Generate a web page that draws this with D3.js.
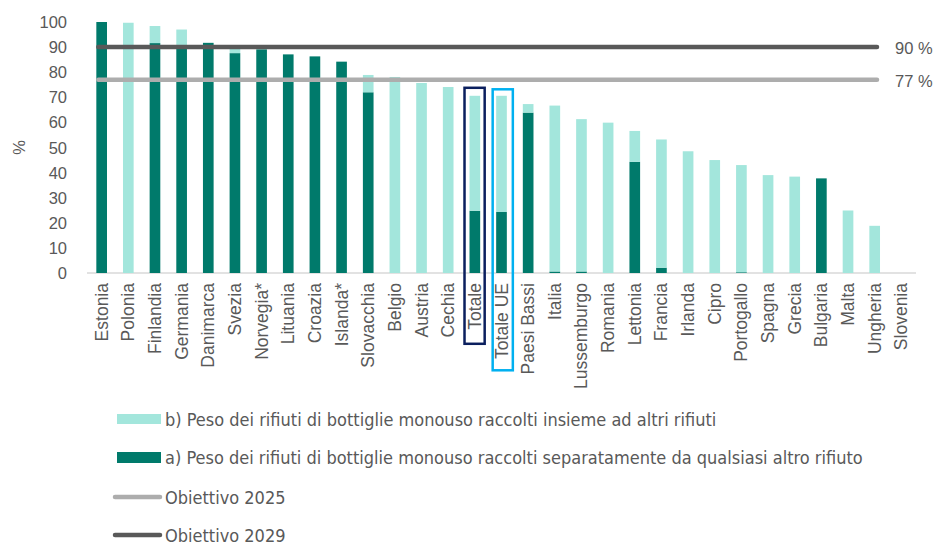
<!DOCTYPE html>
<html>
<head>
<meta charset="utf-8">
<script src="https://cdn.jsdelivr.net/npm/d3@7"></script>
<style>
  html, body { margin: 0; padding: 0; background: #ffffff; }
  svg { display: block; }
</style>
</head>
<body>
<svg id="chart" width="937" height="542"></svg>
<script>
const categories = ["Estonia","Polonia","Finlandia","Germania","Danimarca","Svezia","Norvegia*","Lituania","Croazia","Islanda*","Slovacchia","Belgio","Austria","Cechia","Totale","Totale UE","Paesi Bassi","Italia","Lussemburgo","Romania","Lettonia","Francia","Irlanda","Cipro","Portogallo","Spagna","Grecia","Bulgaria","Malta","Ungheria","Slovenia"];
// a) raccolti separatamente
const separate = [100,0,91.6,89.5,91.7,87.6,89.1,87.1,86.3,84.2,72,0,0,0,24.8,24.3,63.9,0.6,0.6,0,44.3,2.1,0,0,0.3,0,0,37.7,0,0,0];
// b) raccolti insieme ad altri rifiuti
const combined = [0,99.7,6.8,7.5,0,1.9,0,0,0,0,6.9,78.1,75.7,74.1,45.8,46.3,3.4,66.1,60.7,59.9,12.3,51.1,48.5,45,42.7,39,38.4,0,24.9,18.8,0];
const yTicks = [0,10,20,30,40,50,60,70,80,90,100];
const targetValues = [77, 90];
const targetLabels = ["77 %", "90 %"];
const legendLabels = [
  "b) Peso dei rifiuti di bottiglie monouso raccolti insieme ad altri rifiuti",
  "a) Peso dei rifiuti di bottiglie monouso raccolti separatamente da qualsiasi altro rifiuto",
  "Obiettivo 2025",
  "Obiettivo 2029"
];

const colDark = "#007A6B", colLight = "#A3E6DC";
const colT25 = "#ADADAD", colT29 = "#595959";
const textCol = "#595959";
const font = "'Liberation Sans', Arial, sans-serif";
const narrow = "'Liberation Sans Narrow', 'DejaVu Sans Condensed', sans-serif";

const svg = d3.select("#chart");
const x = d3.scaleBand().domain(categories).range([87, 916]).paddingInner(0.6).paddingOuter(0.35);
const y = d3.scaleLinear().domain([0, 100]).range([273, 22]);

const data = categories.map((c, i) => ({cat: c, a: separate[i], b: combined[i]}));

// axis baseline
svg.append("line").attr("x1", 87).attr("x2", 916).attr("y1", y(0)).attr("y2", y(0))
  .attr("stroke", "#D9D9D9").attr("stroke-width", 1.5);

// bars
const g = svg.append("g");
g.selectAll("rect.a").data(data).join("rect").attr("class", "a")
  .attr("x", d => x(d.cat)).attr("width", x.bandwidth())
  .attr("y", d => y(d.a)).attr("height", d => y(0) - y(d.a))
  .attr("fill", colDark);
g.selectAll("rect.b").data(data).join("rect").attr("class", "b")
  .attr("x", d => x(d.cat)).attr("width", x.bandwidth())
  .attr("y", d => y(d.a + d.b)).attr("height", d => y(d.a) - y(d.a + d.b))
  .attr("fill", colLight);

// target lines
const tx1 = x(categories[0]) + 2;
const tx2 = x("Ungheria") + x.bandwidth() - 3;
[[targetValues[0], colT25, targetLabels[0]], [targetValues[1], colT29, targetLabels[1]]].forEach(([v, c, lab]) => {
  svg.append("line").attr("x1", tx1).attr("x2", tx2).attr("y1", y(v)).attr("y2", y(v))
    .attr("stroke", c).attr("stroke-width", 4.5).attr("stroke-linecap", "round");
  svg.append("text").attr("x", 895).attr("y", y(v) + 1).attr("dominant-baseline", "central")
    .attr("font-family", font).attr("font-size", 16.5).attr("fill", textCol).text(lab);
});

// y ticks
svg.append("g").selectAll("text").data(yTicks).join("text")
  .attr("x", 67).attr("y", d => y(d)).attr("text-anchor", "end").attr("dominant-baseline", "central")
  .attr("font-family", font).attr("font-size", 16.5).attr("fill", textCol).text(d => d);

svg.append("text").attr("transform", `translate(19,${y(50)}) rotate(-90)`)
  .attr("text-anchor", "middle").attr("dominant-baseline", "central")
  .attr("font-family", font).attr("font-size", 16.5).attr("fill", textCol).text("%");

// x labels
svg.append("g").selectAll("text").data(categories).join("text")
  .attr("transform", d => `translate(${x(d) + x.bandwidth() / 2},283) rotate(-90)`)
  .attr("text-anchor", "end").attr("dominant-baseline", "central")
  .attr("font-family", font).attr("font-size", 17.5).attr("fill", textCol).text(d => d);

// highlight boxes
const totIdx = categories.indexOf("Totale");
svg.append("rect").attr("x", x("Totale") - 5).attr("width", x.bandwidth() + 9.5)
  .attr("y", y(combined[totIdx] + separate[totIdx]) - 8).attr("height", 256)
  .attr("fill", "none").attr("stroke", "#0B1F5E").attr("stroke-width", 2.5);
const ueIdx = categories.indexOf("Totale UE");
svg.append("rect").attr("x", x("Totale UE") - 3.5).attr("width", x.bandwidth() + 9.5)
  .attr("y", y(combined[ueIdx] + separate[ueIdx]) - 6.5).attr("height", 281)
  .attr("fill", "none").attr("stroke", "#00B0F0").attr("stroke-width", 2.5);

// legend
const leg = svg.append("g");
const ly = [419, 457.5, 497, 535];
leg.append("rect").attr("x", 117).attr("y", ly[0] - 5).attr("width", 44).attr("height", 10).attr("fill", colLight);
leg.append("rect").attr("x", 117).attr("y", ly[1] - 5.5).attr("width", 44).attr("height", 11).attr("fill", colDark);
leg.append("line").attr("x1", 115).attr("x2", 160).attr("y1", ly[2]).attr("y2", ly[2])
  .attr("stroke", colT25).attr("stroke-width", 4.5).attr("stroke-linecap", "round");
leg.append("line").attr("x1", 115).attr("x2", 160).attr("y1", ly[3]).attr("y2", ly[3])
  .attr("stroke", colT29).attr("stroke-width", 4.5).attr("stroke-linecap", "round");
leg.selectAll("text").data(legendLabels).join("text")
  .attr("x", 165).attr("y", (d, i) => ly[i]).attr("dominant-baseline", "central")
  .attr("font-family", narrow).attr("font-size", 18).attr("fill", textCol).text(d => d);
</script>
</body>
</html>
